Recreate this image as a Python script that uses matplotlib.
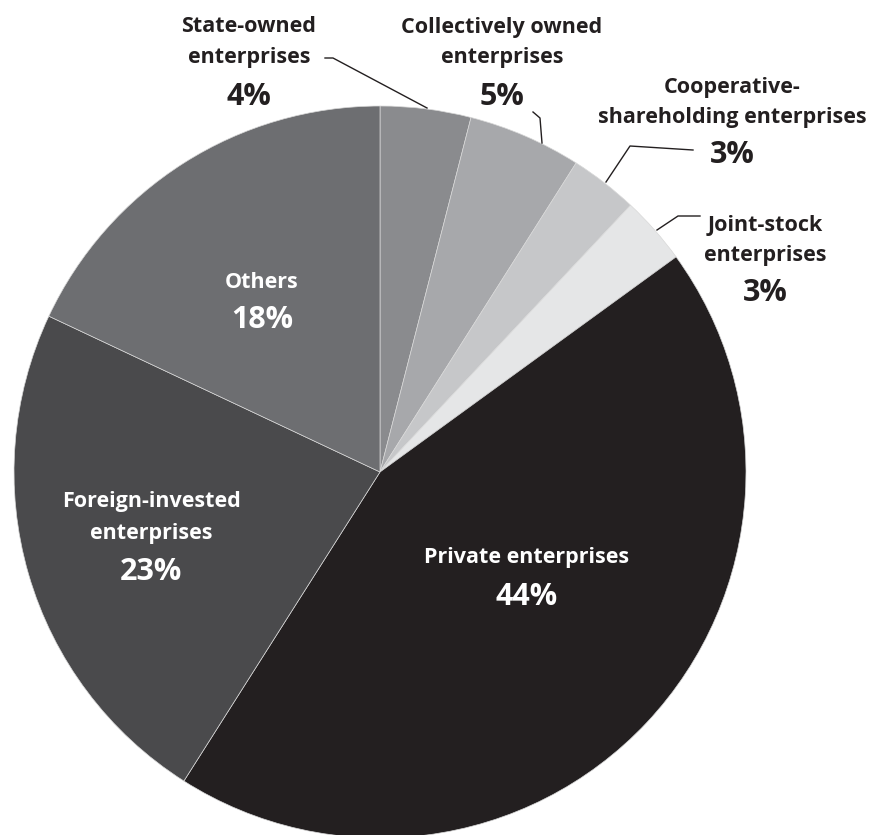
import matplotlib.pyplot as plt

# ownership shares, clockwise from 12 o'clock
sectors = ["State-owned\nenterprises", "Collectively owned\nenterprises",
           "Cooperative-\nshareholding enterprises", "Joint-stock\nenterprises",
           "Private enterprises", "Foreign-invested\nenterprises", "Others"]
shares = [4, 5, 3, 3, 44, 23, 18]
colors = ["#8a8b8e", "#a7a8ab", "#c6c7c9", "#e5e6e7", "#231f20", "#4a4a4c", "#6d6e71"]

W, H = 873, 835
plt.rcParams['font.family'] = ['Open Sans', 'DejaVu Sans']

fig = plt.figure(figsize=(W / 100, H / 100), dpi=100)
ax = fig.add_axes([0, 0, 1, 1])

def py(y):
    # work in image-style coordinates (y down from the top)
    return H - y

cx, cy, r = 380, 472, 366
ax.pie(shares, colors=colors, startangle=90, counterclock=False,
       center=(cx, py(cy)), radius=r, frame=True,
       wedgeprops=dict(edgecolor="#d8d8d8", linewidth=0.5))
ax.set_xlim(0, W)
ax.set_ylim(0, H)
ax.set_aspect('equal')
ax.axis('off')

lab_fs = 15.5
pct_fs = 22

# (label x, first line y, pct y, text color)
spots = [
    (249, 27, 97, "#231f20"),
    (502, 27, 97, "#231f20"),
    (732, 87, 155, "#231f20"),
    (765, 225, 293, "#231f20"),
    (527, 558, 597, "white"),
    (151, 502, 572, "white"),
    (262, 282, 320, "white"),
]
for name, val, (x, y, yp, c) in zip(sectors, shares, spots):
    for i, line in enumerate(name.split("\n")):
        ax.text(x, py(y + i * 31), line, ha='center', va='center',
                fontsize=lab_fs, fontweight='bold', color=c)
    ax.text(x, py(yp), f"{val}%", ha='center', va='center',
            fontsize=pct_fs, fontweight='bold', color=c)

# leader lines for the small outer slices
leaders = [
    ([325, 333, 427], [58, 58, 108]),
    ([533, 540, 542], [112, 118, 143]),
    ([693, 630, 606], [150, 146, 182]),
    ([700, 678, 657], [216, 216, 230]),
]
for xs, ys in leaders:
    ax.plot(xs, [py(v) for v in ys], color="#231f20", lw=1)

fig.savefig("out.png", dpi=100)
